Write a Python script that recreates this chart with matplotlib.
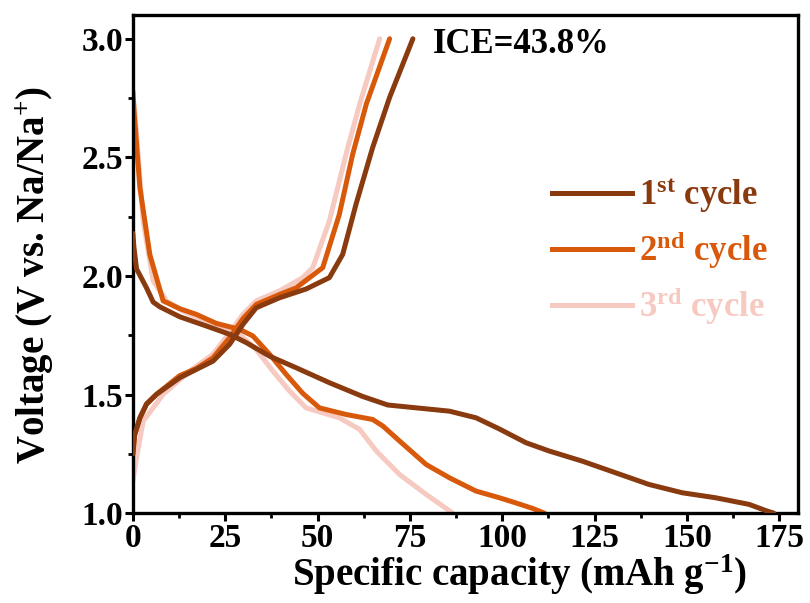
import matplotlib
matplotlib.use("Agg")
import matplotlib.pyplot as plt
from matplotlib.ticker import MultipleLocator

# values (capacity in mAh/g, voltage in V)
dis1_x = [0, 0.3, 1.0, 3.7, 5.5, 7.3, 12.7, 19.9, 26.2, 30.7, 37.0, 44.2, 53.2, 62.2, 69.0, 76.7,
          85.7, 92.9, 99.2, 106.4, 112.7, 121.7, 130.7, 139.7, 148.7, 157.7, 166.8, 171.3, 173.5]
dis1_y = [2.18, 2.12, 2.03, 1.95, 1.89, 1.87, 1.828, 1.789, 1.754, 1.719, 1.662, 1.613, 1.55, 1.492, 1.456, 1.444,
          1.43, 1.402, 1.355, 1.297, 1.262, 1.219, 1.17, 1.121, 1.086, 1.065, 1.037, 1.011, 1.0]
chg1_x = [0, 0.5, 1.9, 3.7, 6.4, 12.7, 17.2, 21.7, 26.2, 29.8, 33.4, 39.7, 46.9, 53.2, 56.8,
          60.4, 64.9, 69.5, 75.8]
chg1_y = [1.25, 1.33, 1.402, 1.46, 1.501, 1.571, 1.606, 1.641, 1.712, 1.796, 1.866, 1.908, 1.945, 1.993, 2.091,
          2.302, 2.541, 2.753, 3.0]

dis2_x = [0, 0.3, 1.9, 4.6, 8.2, 12.7, 17.2, 22.6, 28.9, 32.5, 37.0, 41.5, 46.0, 50.5, 57.7, 64.9,
          67.7, 72.2, 79.4, 85.7, 92.9, 99.2, 103.7, 108.2, 111.4]
dis2_y = [2.78, 2.70, 2.373, 2.09, 1.895, 1.862, 1.838, 1.80, 1.775, 1.747, 1.67, 1.585, 1.505, 1.444, 1.416, 1.395,
          1.367, 1.304, 1.205, 1.149, 1.093, 1.065, 1.043, 1.02, 1.0]
chg2_x = [0, 0.5, 1.9, 3.7, 6.4, 12.7, 17.2, 21.7, 26.2, 29.8, 33.4, 39.7, 44.2, 51.4, 55.9,
          59.5, 63.2, 69.5]
chg2_y = [1.25, 1.33, 1.40, 1.46, 1.501, 1.58, 1.61, 1.655, 1.74, 1.82, 1.88, 1.922, 1.95, 2.035, 2.26,
          2.513, 2.725, 3.0]

dis3_x = [0, 0.5, 2.8, 5.5, 9.1, 13.6, 20.8, 26.2, 28.9, 33.4, 37.9, 42.4, 46.9, 51.4, 55.9,
          61.4, 65.9, 72.2, 79.4, 86.6]
dis3_y = [2.76, 2.70, 2.232, 1.979, 1.895, 1.852, 1.803, 1.768, 1.754, 1.69, 1.599, 1.515, 1.444, 1.423, 1.402,
          1.353, 1.262, 1.163, 1.079, 1.0]
chg3_x = [0, 1.0, 2.8, 8.2, 15.4, 21.7, 26.2, 29.8, 33.4, 39.7, 46.0, 48.7, 53.2, 57.7, 61.4, 66.8]
chg3_y = [1.135, 1.233, 1.388, 1.501, 1.599, 1.67, 1.761, 1.838, 1.895, 1.937, 1.993, 2.035, 2.232, 2.513, 2.725, 3.0]

colors = ["#8a3a0f", "#d9590b", "#f6c9c1"]
labels = [r"1$^{\mathbf{st}}$ cycle", r"2$^{\mathbf{nd}}$ cycle", r"3$^{\mathbf{rd}}$ cycle"]

plt.rcParams["font.family"] = "Liberation Serif"
plt.rcParams["font.weight"] = "bold"
plt.rcParams["mathtext.fontset"] = "custom"
plt.rcParams["mathtext.rm"] = "Liberation Serif:bold"
plt.rcParams["mathtext.bf"] = "Liberation Serif:bold"
plt.rcParams["mathtext.it"] = "Liberation Serif:bold"

fig = plt.figure(figsize=(8.1, 6.03), dpi=100)
ax = fig.add_axes([0.164, 0.149, 0.821, 0.826])

curves = [(dis3_x, dis3_y, chg3_x, chg3_y), (dis2_x, dis2_y, chg2_x, chg2_y), (dis1_x, dis1_y, chg1_x, chg1_y)]
for i, (dx, dy, cx, cy) in zip([2, 1, 0], curves):
    ax.plot(dx, dy, color=colors[i], lw=3.6, solid_capstyle="round", solid_joinstyle="round", zorder=3 - i)
    ax.plot(cx, cy, color=colors[i], lw=3.6, solid_capstyle="round", solid_joinstyle="round", zorder=3 - i)

handles = [plt.Line2D([], [], color=c, lw=3.6) for c in colors]
leg = ax.legend(handles, labels, loc="center left", bbox_to_anchor=(0.63, 0.525),
                frameon=False, fontsize=25, handlelength=2.3, handletextpad=0.2,
                labelspacing=0.42, borderpad=0, borderaxespad=0, labelcolor="linecolor")

ax.text(0.451, 0.94, "ICE=43.8%", transform=ax.transAxes, fontsize=25,
        fontweight="bold", ha="left", va="center")

ax.set_xlim(0, 180)
ax.set_ylim(1.0, 3.1)
ax.xaxis.set_major_locator(MultipleLocator(25))
ax.xaxis.set_minor_locator(MultipleLocator(12.5))
ax.yaxis.set_major_locator(MultipleLocator(0.5))
ax.yaxis.set_minor_locator(MultipleLocator(0.25))
ax.tick_params(which="major", direction="out", length=6, width=2.2, labelsize=24, pad=1)
ax.tick_params(which="minor", direction="out", length=3.5, width=2.0)
for s in ax.spines.values():
    s.set_linewidth(2.4)

ax.set_xlabel(r"Specific capacity (mAh g$^{\mathbf{-1}}$)", fontsize=28, fontweight="bold")
ax.set_ylabel(r"Voltage (V vs. Na/Na$^{\mathbf{+}}$)", fontsize=28, fontweight="bold")
ax.xaxis.set_label_coords(0.582, -0.08)
ax.yaxis.set_label_coords(-0.115, 0.478)

fig.savefig("out.png", dpi=100)
